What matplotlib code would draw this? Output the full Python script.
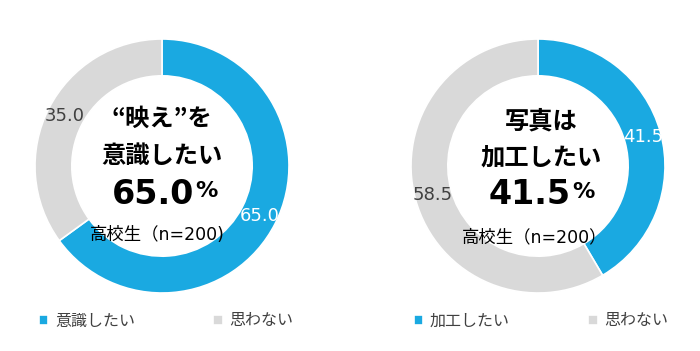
import matplotlib
matplotlib.use("Agg")
import matplotlib.pyplot as plt

plt.rcParams['font.family'] = ['Noto Sans CJK JP', 'DejaVu Sans']

# data
left_labels = ['意識したい', '思わない']
left_values = [65.0, 35.0]
right_labels = ['加工したい', '思わない']
right_values = [41.5, 58.5]

blue = '#1aa9e1'
gray = '#d9d9d9'
dark = '#404040'

W, H = 700, 351
fig = plt.figure(figsize=(7.0, 3.51), dpi=100)


def px(x, y):
    return x / W, 1 - y / H


def donut(cx, cy, r, values, labels, legend_x):
    ax = fig.add_axes([(cx - r) / W, (H - cy - r) / H, 2 * r / W, 2 * r / H])
    wedges, texts, autotexts = ax.pie(
        values, colors=[blue, gray], startangle=90, counterclock=False,
        radius=1, autopct='%.1f', pctdistance=0.86,
        wedgeprops=dict(width=0.29, edgecolor='white', linewidth=1.2),
        textprops=dict(fontsize=13, family='DejaVu Sans'))
    autotexts[0].set_color('white')
    autotexts[1].set_color(dark)
    ax.set_xlim(-1, 1)
    ax.set_ylim(-1, 1)
    ax.set_aspect('equal')
    fig.legend(wedges, labels, loc='center', bbox_to_anchor=px(legend_x, 321),
               ncol=2, frameon=False, fontsize=11.5, labelcolor=dark,
               handlelength=0.6, handleheight=0.6, handletextpad=0.4,
               columnspacing=4.9)
    return ax


donut(162, 166, 127, left_values, left_labels, 166)
donut(538, 166, 127, right_values, right_labels, 541)

bold = dict(fontweight='bold', color='black', ha='center', va='center')
num = dict(family='DejaVu Sans', fontweight='bold', color='black')
sub = dict(family=['DejaVu Sans', 'Noto Sans CJK JP'], fontsize=12.5,
           color='black', ha='center', va='center')

fig.text(*px(162, 119), '“映え”を', fontsize=17.5, **bold)
fig.text(*px(162, 156), '意識したい', fontsize=17.5, **bold)
fig.text(*px(194, 194), f'{left_values[0]:.1f}', fontsize=24, ha='right', va='center', **num)
fig.text(*px(195, 181), '%', fontsize=16, ha='left', va='top', **num)
fig.text(*px(157, 235), '高校生（n=200)', **sub)

fig.text(*px(541, 121), '写真は', fontsize=17.5, **bold)
fig.text(*px(541, 157), '加工したい', fontsize=17.5, **bold)
fig.text(*px(571, 195), f'{right_values[0]:.1f}', fontsize=24, ha='right', va='center', **num)
fig.text(*px(572, 182), '%', fontsize=16, ha='left', va='top', **num)
fig.text(*px(535, 237), '高校生（n=200）', **sub)

fig.savefig('out.png', dpi=100, facecolor='white')
